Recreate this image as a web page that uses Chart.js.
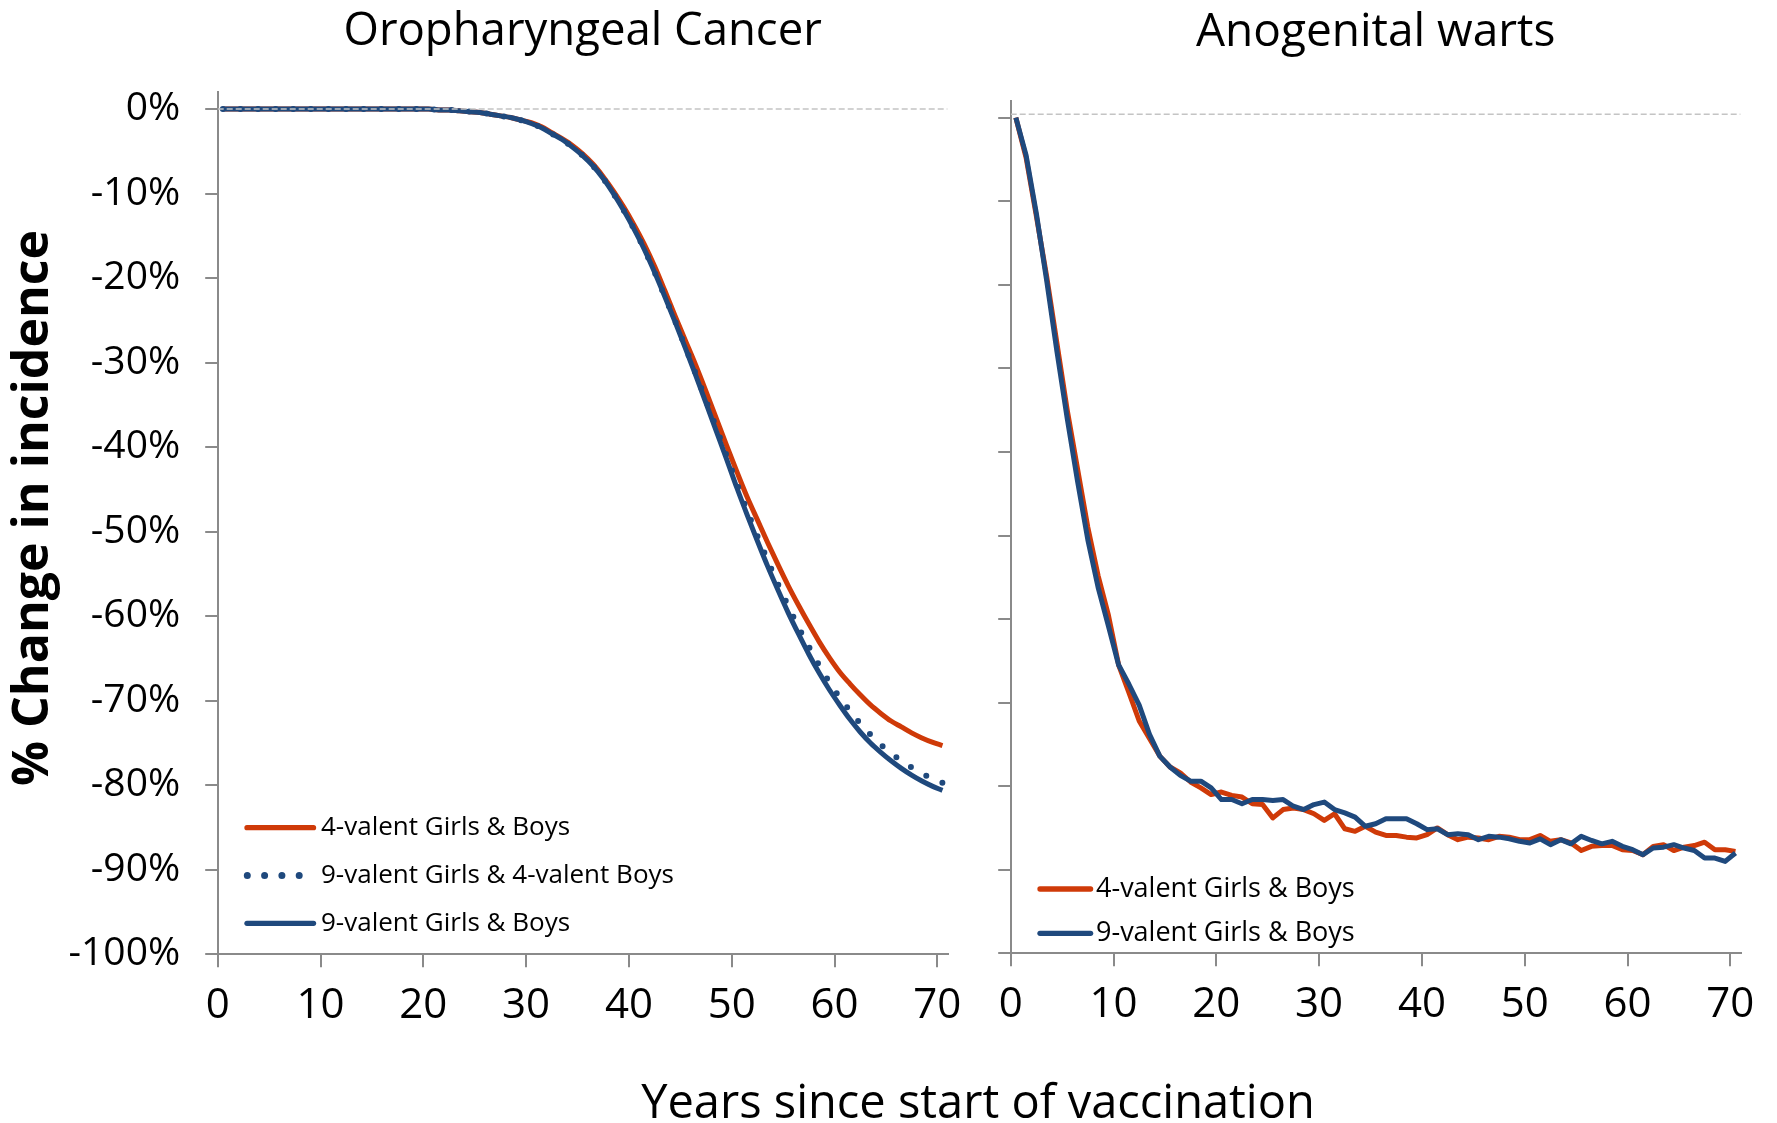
<!DOCTYPE html>
<html>
<head>
<meta charset="utf-8">
<script src="https://cdn.jsdelivr.net/npm/chart.js@4.4.1/dist/chart.umd.min.js"></script>
<style>
  html, body { margin: 0; padding: 0; background: #ffffff; }
  body { width: 1777px; height: 1123px; position: relative; overflow: hidden; font-family: "Open Sans", sans-serif; }
  #leftChart { position: absolute; left: 0; top: 0; }
  #rightChart { position: absolute; left: 960px; top: 0; }
  #xTitle { position: absolute; left: 478px; width: 1000px; top: 1077px; text-align: center;
            font-size: 47px; line-height: 47px; color: #000; white-space: nowrap; }
  #yTitle { position: absolute; left: -271px; width: 600px; top: 483px; height: 50px; text-align: center;
            font-size: 50px; line-height: 50px; font-weight: bold; color: #000; white-space: nowrap;
            transform: rotate(-90deg); }
</style>
</head>
<body>
<canvas id="leftChart" width="980" height="1123"></canvas>
<canvas id="rightChart" width="817" height="1123"></canvas>
<div id="xTitle">Years since start of vaccination</div>
<div id="yTitle">% Change in incidence</div>
<script>
// ---------------- data ----------------
const titleLeft = "Oropharyngeal Cancer";
const titleRight = "Anogenital warts";
const seriesNames = ["4-valent Girls & Boys", "9-valent Girls & 4-valent Boys", "9-valent Girls & Boys"];

const years = [0.5, 1.5, 2.5, 3.5, 4.5, 5.5, 6.5, 7.5, 8.5, 9.5,
  10.5, 11.5, 12.5, 13.5, 14.5, 15.5, 16.5, 17.5, 18.5, 19.5,
  20.5, 21.5, 22.5, 23.5, 24.5, 25.5, 26.5, 27.5, 28.5, 29.5,
  30.5, 31.5, 32.5, 33.5, 34.5, 35.5, 36.5, 37.5, 38.5, 39.5,
  40.5, 41.5, 42.5, 43.5, 44.5, 45.5, 46.5, 47.5, 48.5, 49.5,
  50.5, 51.5, 52.5, 53.5, 54.5, 55.5, 56.5, 57.5, 58.5, 59.5,
  60.5, 61.5, 62.5, 63.5, 64.5, 65.5, 66.5, 67.5, 68.5, 69.5, 70.5];

// Oropharyngeal cancer (% change)
const oroQuad4 = [0, 0, 0, 0, 0, 0, 0, 0, 0, 0,
  0, 0, 0, 0, 0, 0, 0, 0, 0, 0,
  0, -0.1, -0.1, -0.2, -0.3, -0.4, -0.6, -0.8, -1.0, -1.3,
  -1.6, -2.1, -2.8, -3.5, -4.3, -5.3, -6.5, -8.0, -9.7, -11.6,
  -13.7, -16.0, -18.6, -21.5, -24.5, -27.4, -30.3, -33.4, -36.6, -39.8,
  -42.9, -45.9, -48.6, -51.3, -53.9, -56.4, -58.7, -60.9, -63.0, -64.9,
  -66.6, -68.0, -69.3, -70.5, -71.5, -72.4, -73.1, -73.8, -74.4, -74.9, -75.3];
const oroNineGirls4Boys = [0, 0, 0, 0, 0, 0, 0, 0, 0, 0,
  0, 0, 0, 0, 0, 0, 0, 0, 0, 0,
  0, -0.1, -0.1, -0.2, -0.3, -0.4, -0.6, -0.8, -1.0, -1.3,
  -1.7, -2.2, -2.9, -3.6, -4.5, -5.5, -6.7, -8.2, -10.0, -12.0,
  -14.2, -16.6, -19.3, -22.2, -25.1, -28.2, -31.3, -34.5, -37.7, -41.0,
  -44.3, -47.5, -50.5, -53.4, -56.2, -58.8, -61.3, -63.6, -65.8, -67.8,
  -69.6, -71.2, -72.7, -74.0, -75.2, -76.2, -77.1, -77.9, -78.6, -79.2, -79.7];
const oroNine = [0, 0, 0, 0, 0, 0, 0, 0, 0, 0,
  0, 0, 0, 0, 0, 0, 0, 0, 0, 0,
  0, -0.1, -0.1, -0.2, -0.3, -0.4, -0.6, -0.8, -1.0, -1.3,
  -1.7, -2.2, -2.9, -3.6, -4.5, -5.5, -6.7, -8.2, -10.0, -12.0,
  -14.2, -16.6, -19.3, -22.2, -25.2, -28.3, -31.5, -34.8, -38.1, -41.4,
  -44.8, -48.0, -51.1, -54.1, -56.9, -59.6, -62.1, -64.5, -66.7, -68.7,
  -70.5, -72.2, -73.7, -75.0, -76.1, -77.1, -78.0, -78.8, -79.5, -80.1, -80.6];

// Anogenital warts (% change)
const wartsQuad4 = [0, -4.8, -11.8, -19.0, -27.0, -35.0, -42.0, -49.0, -54.8, -59.5,
  -65.5, -68.8, -72.2, -74.3, -76.4, -77.7, -78.4, -79.5, -80.2, -81.0,
  -80.7, -81.1, -81.3, -82.1, -82.2, -83.8, -82.8, -82.6, -82.8, -83.3,
  -84.1, -83.3, -85.1, -85.4, -84.8, -85.5, -85.9, -85.9, -86.1, -86.2,
  -85.8, -85.0, -85.8, -86.4, -86.1, -86.2, -86.4, -86.0, -86.1, -86.4,
  -86.4, -85.9, -86.6, -86.4, -86.8, -87.7, -87.2, -87.1, -87.1, -87.6,
  -87.7, -88.2, -87.2, -87.0, -87.7, -87.3, -87.1, -86.7, -87.6, -87.6, -87.8];
const wartsNine = [0, -4.5, -11.5, -19.5, -28.0, -36.0, -43.5, -50.5, -56.2, -60.8,
  -65.5, -67.8, -70.3, -73.8, -76.4, -77.7, -78.7, -79.4, -79.4, -80.2,
  -81.6, -81.6, -82.1, -81.6, -81.6, -81.7, -81.6, -82.4, -82.8, -82.2,
  -81.9, -82.8, -83.2, -83.7, -84.8, -84.5, -83.9, -83.9, -83.9, -84.5,
  -85.2, -85.1, -85.8, -85.7, -85.8, -86.4, -86.0, -86.1, -86.3, -86.6,
  -86.8, -86.3, -87.0, -86.4, -86.9, -86.0, -86.5, -86.9, -86.6, -87.2,
  -87.6, -88.2, -87.4, -87.3, -87.0, -87.4, -87.7, -88.6, -88.6, -89.0, -88.0];

// reference (no change) lines
const refLineX = [0, 71];
const refLineLeft = [0, 0];
const refLineRight = [0.4, 0.4];

// axes
const xTickValues = [0, 10, 20, 30, 40, 50, 60, 70];
const yTickValues = [0, -10, -20, -30, -40, -50, -60, -70, -80, -90, -100];
const yTickLabels = ["0%", "-10%", "-20%", "-30%", "-40%", "-50%", "-60%", "-70%", "-80%", "-90%", "-100%"];

// ---------------- styling ----------------
const RED = "#cf3a08";
const BLUE = "#1f497d";
const AXIS = "#8a8a8a";
const FONT = "'Open Sans', sans-serif";

const toPoints = (xs, ys) => ys.map((v, i) => ({ x: xs[i], y: v }));

const panelLegend = {
  id: "panelLegend",
  afterDraw(chart, args, opts) {
    if (!opts || !opts.items) return;
    const ctx = chart.ctx;
    ctx.save();
    opts.items.forEach((it, i) => {
      const ds = chart.data.datasets[it.dataset];
      const y = opts.y0 + i * opts.gap;
      ctx.strokeStyle = ds.borderColor;
      ctx.lineCap = "round";
      if (it.dotted) {
        ctx.lineWidth = opts.dotSize;
        ctx.setLineDash([0, opts.dotGap]);
        ctx.beginPath();
        ctx.moveTo(opts.dotX0, y);
        ctx.lineTo(opts.dotX1, y);
        ctx.stroke();
      } else {
        ctx.lineWidth = opts.lineWidth;
        ctx.setLineDash([]);
        ctx.beginPath();
        ctx.moveTo(opts.x0, y);
        ctx.lineTo(opts.x1, y);
        ctx.stroke();
      }
      ctx.setLineDash([]);
      ctx.fillStyle = "#000";
      ctx.font = opts.font;
      ctx.textAlign = "left";
      ctx.textBaseline = "middle";
      ctx.fillText(ds.label, opts.textX, y);
    });
    ctx.restore();
  }
};

function xScale(height) {
  return {
    type: "linear", min: 0, max: 71,
    afterBuildTicks: s => { s.ticks = xTickValues.map(v => ({ value: v })); },
    afterFit: s => { s.height = height; s.paddingLeft = 0; s.paddingRight = 0; },
    border: { display: true, color: AXIS, width: 2 },
    grid: { drawOnChartArea: false, drawTicks: true, tickLength: 13, color: AXIS, lineWidth: 2 },
    ticks: { color: "#000", font: { family: FONT, size: 42 }, padding: 14, maxRotation: 0, autoSkip: false }
  };
}
function yScale(width, showLabels) {
  return {
    type: "linear", min: -100, max: 2,
    afterBuildTicks: s => { s.ticks = yTickValues.map(v => ({ value: v })); },
    afterFit: s => { s.width = width; s.paddingTop = 0; s.paddingBottom = 0; },
    border: { display: true, color: AXIS, width: 2 },
    grid: { drawOnChartArea: false, drawTicks: true, tickLength: 12.5, color: AXIS, lineWidth: 2 },
    ticks: {
      color: "#000", font: { family: FONT, size: 39 }, padding: 25, autoSkip: false,
      callback: v => showLabels ? yTickLabels[yTickValues.indexOf(v)] : ""
    }
  };
}
function refDataset(vals) {
  return { label: "ref", data: toPoints(refLineX, vals), borderColor: "#c4c4c4", borderWidth: 1.5,
           borderDash: [6, 3], pointRadius: 0, fill: false };
}

// ---------------- left chart ----------------
new Chart(document.getElementById("leftChart"), {
  type: "line",
  data: {
    datasets: [
      refDataset(refLineLeft),
      { label: seriesNames[1], data: toPoints(years, oroNineGirls4Boys), borderColor: BLUE, borderWidth: 6,
        borderDash: [0, 17.6], borderCapStyle: "round", pointRadius: 0, cubicInterpolationMode: "monotone" },
      { label: seriesNames[2], data: toPoints(years, oroNine), borderColor: BLUE, borderWidth: 5,
        pointRadius: 0, cubicInterpolationMode: "monotone" },
      { label: seriesNames[0], data: toPoints(years, oroQuad4), borderColor: RED, borderWidth: 5,
        pointRadius: 0, cubicInterpolationMode: "monotone" }
    ]
  },
  options: {
    responsive: false, animation: false, devicePixelRatio: 1,
    layout: { padding: { left: 0, right: 32.4, top: 0, bottom: 0 } },
    plugins: {
      legend: { display: false },
      tooltip: { enabled: false },
      title: { display: true, fullSize: false, text: titleLeft, color: "#000",
               font: { family: FONT, size: 45.5, weight: "normal", lineHeight: 1.2 },
               padding: { top: 5, bottom: 32.6 } },
      panelLegend: {
        items: [{ dataset: 3 }, { dataset: 1, dotted: true }, { dataset: 2 }],
        x0: 247, x1: 313.5, lineWidth: 5.3, dotX0: 247.3, dotX1: 299.5, dotGap: 17.3, dotSize: 7,
        textX: 321, y0: 827.7, gap: 47.8, font: "26px 'Open Sans', sans-serif"
      }
    },
    scales: { x: xScale(168.7), y: yScale(217.7, true) }
  },
  plugins: [panelLegend]
});

// ---------------- right chart ----------------
new Chart(document.getElementById("rightChart"), {
  type: "line",
  data: {
    datasets: [
      refDataset(refLineRight),
      { label: seriesNames[2], data: toPoints(years, wartsNine), borderColor: BLUE, borderWidth: 5,
        pointRadius: 0, tension: 0, borderJoinStyle: "round" },
      { label: seriesNames[0], data: toPoints(years, wartsQuad4), borderColor: RED, borderWidth: 5,
        pointRadius: 0, tension: 0, borderJoinStyle: "round" }
    ]
  },
  options: {
    responsive: false, animation: false, devicePixelRatio: 1,
    layout: { padding: { left: 0, right: 36.4, top: 0, bottom: 0 } },
    plugins: {
      legend: { display: false },
      tooltip: { enabled: false },
      title: { display: true, fullSize: false, text: titleRight, color: "#000",
               font: { family: FONT, size: 46, weight: "normal", lineHeight: 1.2 },
               padding: { top: 5, bottom: 40.8 } },
      panelLegend: {
        items: [{ dataset: 2 }, { dataset: 1 }],
        x0: 80, x1: 130.6, lineWidth: 5.3,
        textX: 136, y0: 889, gap: 44.3, font: "27px 'Open Sans', sans-serif"
      }
    },
    scales: { x: xScale(169.7), y: yScale(50.7, false) }
  },
  plugins: [panelLegend]
});
</script>
</body>
</html>
